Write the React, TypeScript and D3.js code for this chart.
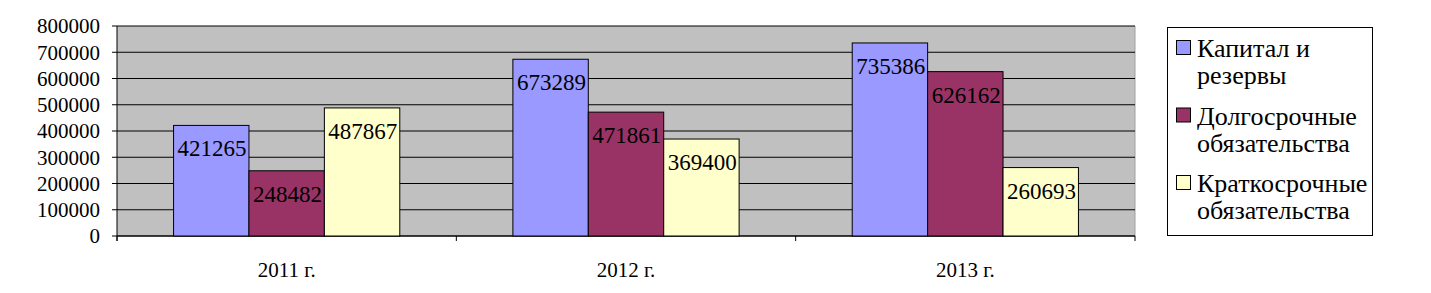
import React from "react";
import * as d3 from "d3";

const categories = ["2011 г.", "2012 г.", "2013 г."];
const seriesNames = [
  ["Капитал и", "резервы"],
  ["Долгосрочные", "обязательства"],
  ["Краткосрочные", "обязательства"],
];
const capital = [421265, 673289, 735386];
const longTerm = [248482, 471861, 626162];
const shortTerm = [487867, 369400, 260693];
const yTicks = [0, 100000, 200000, 300000, 400000, 500000, 600000, 700000, 800000];
const colors = ["#9999FF", "#993366", "#FFFFCC"];

const FONT = "'Liberation Serif', 'Times New Roman', serif";

export default function App() {
  const W = 1431, H = 293;
  const left = 117, right = 1135, top = 26, bottom = 236;
  const series = [capital, longTerm, shortTerm];
  const x = d3.scaleBand<string>().domain(categories).range([left, right]).paddingInner(0).paddingOuter(0);
  const y = d3.scaleLinear().domain([0, 800000]).range([bottom, top]);
  const bw = x.bandwidth();
  const barW = bw / 4.5;
  const groupOffset = (bw - barW * 3) / 2;
  const boundaries = [...categories.map((c) => x(c)!), right];
  const ts = { fontFamily: FONT };

  return (
    <svg width={W} height={H} style={{ position: "absolute", left: 0, top: 0, fontFamily: FONT }}>
      <rect x={0} y={0} width={W} height={H} fill="#fff" />
      <rect x={left} y={top} width={right - left} height={bottom - top} fill="#C0C0C0" />
      <line x1={right} x2={right} y1={top} y2={bottom} stroke="#a0a0a0" />
      {yTicks.map((t) => (
        <g key={t}>
          <line x1={left} x2={right} y1={y(t)} y2={y(t)} stroke="#000" strokeWidth={1.2} />
          <line x1={left - 5} x2={left} y1={y(t)} y2={y(t)} stroke="#000" />
          <text style={ts} x={left - 17} y={y(t)} dy="0.35em" textAnchor="end" fontSize={21}>
            {t}
          </text>
        </g>
      ))}
      <line x1={left} x2={left} y1={top} y2={bottom + 5} stroke="#000" />
      <line x1={left} x2={right} y1={bottom} y2={bottom} stroke="#000" />
      {boundaries.map((b, i) => (
        <line key={i} x1={b} x2={b} y1={bottom} y2={bottom + 5} stroke="#000" />
      ))}
      {categories.map((c, ci) => (
        <g key={c}>
          {series.map((s, si) => {
            const bx = x(c)! + groupOffset + si * barW;
            const by = y(s[ci]);
            return (
              <rect key={si} x={bx} y={by} width={barW} height={bottom - by} fill={colors[si]} stroke="#000" strokeWidth={1} />
            );
          })}
        </g>
      ))}
      {categories.map((c, ci) => (
        <g key={c + "l"}>
          {series.map((s, si) => {
            const bx = x(c)! + groupOffset + si * barW;
            const by = y(s[ci]);
            return (
              <text key={si} style={ts} x={bx + 4} y={by + 23} dy="0.35em" fontSize={23}>
                {s[ci]}
              </text>
            );
          })}
          <text style={ts} x={x(c)! + bw / 2} y={277} textAnchor="middle" fontSize={21}>
            {c}
          </text>
        </g>
      ))}
      <rect x={1167.5} y={27.5} width={205} height={208} fill="#fff" stroke="#000" />
      {seriesNames.map((n, i) => {
        const baseY = 57 + i * 67.5;
        return (
          <g key={i}>
            <rect x={1176.5} y={baseY - 16.5} width={14} height={14} fill={colors[i]} stroke="#000" />
            {n.map((line, li) => (
              <text key={li} style={ts} x={1197} y={baseY + li * 27} fontSize={26}>
                {line}
              </text>
            ))}
          </g>
        );
      })}
    </svg>
  );
}
